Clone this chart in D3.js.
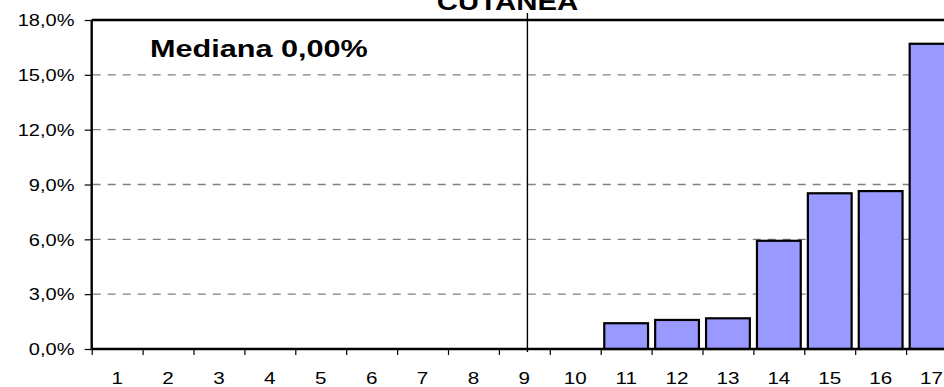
<!DOCTYPE html>
<html>
<head>
<meta charset="utf-8">
<script src="https://cdn.jsdelivr.net/npm/d3@7"></script>
<style>
  html, body { margin: 0; padding: 0; background: #ffffff; overflow: hidden; }
  svg { display: block; font-family: "Liberation Sans", Arial, sans-serif; }
</style>
</head>
<body>
<svg id="chart" width="944" height="387"></svg>
<script>
// Share of cases per class (%)
const categories = ["1","2","3","4","5","6","7","8","9","10","11","12","13","14","15","16","17"];
const values = [0, 0, 0, 0, 0, 0, 0, 0, 0, 0, 1.41, 1.59, 1.68, 5.92, 8.52, 8.64, 16.7];
const yTicks = [0, 3, 6, 9, 12, 15, 18];
const title = "CUTANEA";
const medianLabel = "Mediana 0,00%";
const medianPosition = 8.56; // in class units, measured from the left edge

const svg = d3.select("#chart");
const plotLeft = 91.7, plotTop = 20, plotBottom = 349, plotRight = 957;
const stretch = 1.25; // wide lettering

const x = d3.scaleBand().domain(categories).range([plotLeft, plotRight]).paddingInner(0.14).paddingOuter(0.07);
const xBand = d3.scaleBand().domain(categories).range([plotLeft, plotRight]);
const xLin = d3.scaleLinear().domain([0, categories.length]).range([plotLeft, plotRight]);
const y = d3.scaleLinear().domain([0, 18]).range([plotBottom, plotTop]);

// dashed gridlines
svg.append("g")
  .selectAll("line")
  .data(yTicks.filter(d => d > 0 && d < 18))
  .join("line")
  .attr("x1", plotLeft + 1).attr("x2", 944)
  .attr("y1", d => y(d)).attr("y2", d => y(d))
  .attr("stroke", "#808080").attr("stroke-width", 1.3)
  .attr("stroke-dasharray", "8,7");

// bars
svg.append("g")
  .selectAll("rect")
  .data(values.map((v, i) => ({ c: categories[i], v })).filter(d => d.v > 0))
  .join("rect")
  .attr("x", d => x(d.c))
  .attr("width", x.bandwidth())
  .attr("y", d => y(d.v))
  .attr("height", d => y(0) - y(d.v))
  .attr("fill", "#9999ff")
  .attr("stroke", "#000").attr("stroke-width", 2.2);

// top frame line
svg.append("line")
  .attr("x1", plotLeft).attr("x2", 944)
  .attr("y1", y(18)).attr("y2", y(18))
  .attr("stroke", "#000").attr("stroke-width", 2.4);

// y axis
const yAxis = svg.append("g")
  .attr("transform", `translate(${plotLeft},0)`)
  .call(d3.axisLeft(y).tickValues(yTicks).tickSize(7)
    .tickFormat(d => d3.format(".1f")(d).replace(".", ",") + "%"));
yAxis.select(".domain").attr("stroke", "#000").attr("stroke-width", 2.4)
  .attr("d", `M0,${plotBottom}V${plotTop}`);
yAxis.selectAll(".tick line").attr("stroke", "#000").attr("stroke-width", 1.2);
yAxis.selectAll(".tick text")
  .attr("x", -13.8).attr("dy", "0.36em")
  .attr("transform", `scale(${stretch},1)`)
  .style("font-size", "16px").attr("fill", "#000");

// x axis: tick marks at class boundaries
const xTickAxis = svg.append("g")
  .attr("transform", `translate(0,${plotBottom})`)
  .call(d3.axisBottom(xLin).tickValues(d3.range(0, categories.length + 1)).tickSize(6).tickFormat(""));
xTickAxis.select(".domain").attr("stroke", "#000").attr("stroke-width", 2.4)
  .attr("d", `M${plotLeft},0H944`);
xTickAxis.selectAll(".tick line").attr("stroke", "#000").attr("stroke-width", 1.2);

// x axis labels centred in each class
const xLabelAxis = svg.append("g")
  .attr("transform", `translate(0,${plotBottom})`)
  .call(d3.axisBottom(xBand).tickSize(0));
xLabelAxis.select(".domain").remove();
xLabelAxis.selectAll(".tick text")
  .attr("y", 35).attr("dy", 0)
  .attr("transform", `scale(${stretch},1)`)
  .style("font-size", "16.5px").attr("fill", "#000");

// median marker
svg.append("line")
  .attr("x1", xLin(medianPosition)).attr("x2", xLin(medianPosition))
  .attr("y1", 13).attr("y2", plotBottom + 3)
  .attr("stroke", "#000").attr("stroke-width", 1.4);

// title
svg.append("text")
  .attr("transform", `translate(507.5,10) scale(${stretch},1)`)
  .attr("text-anchor", "middle")
  .style("font-size", "23.5px").style("font-weight", "bold")
  .text(title);

// median annotation
svg.append("text")
  .attr("transform", `translate(150,56.7) scale(${stretch},1)`)
  .style("font-size", "24.5px").style("font-weight", "bold")
  .text(medianLabel);
</script>
</body>
</html>
